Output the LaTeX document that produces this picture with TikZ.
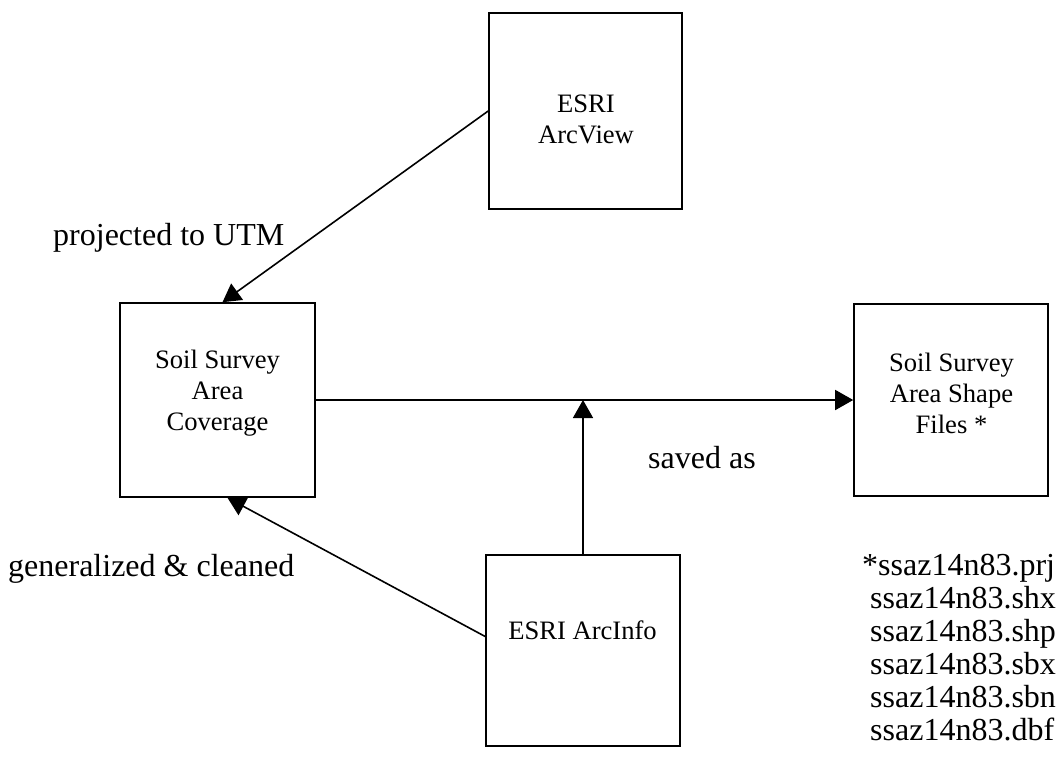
\documentclass[tikz,border=0pt]{standalone}
\usepackage{fontspec}
\setmainfont{Liberation Serif}
\usetikzlibrary{arrows.meta}
\begin{document}
\begin{tikzpicture}[x=1pt,y=-1pt,
  box/.style={draw, line width=1.6pt, minimum width=194pt, minimum height=194pt, inner sep=0pt},
  boxtext/.style={align=center, font=\fontsize{26.6}{31}\selectfont, inner sep=0pt},
  lbl/.style={font=\fontsize{32}{33}\selectfont, inner sep=0pt},
  conn/.style={line width=1.6pt, -{Triangle[length=18pt,width=20pt]}}]
\useasboundingbox (0,0) rectangle (1060,763);
% boxes
\node[box, minimum width=193pt, minimum height=196pt] (arcview) at (585.5,111) {};
\node[box, minimum width=195pt] (coverage) at (217.5,400) {};
\node[box, minimum height=192pt] (shape) at (951,400) {};
\node[box, minimum height=191pt] (arcinfo) at (583,650.5) {};
% box texts
\node[boxtext] (arcviewtxt) at (586,119) {ESRI\\ArcView};
\node[boxtext] (coveragetxt) at (217.5,393) {Soil Survey\\Area\\Coverage};
\node[boxtext] (shapetxt) at (951.5,393) {Soil Survey\\Area Shape\\Files *};
\node[boxtext] (arcinfotxt) at (582.5,630) {ESRI ArcInfo};
% connectors
\draw[conn] (arcview.west) -- ([xshift=5pt]coverage.north);
\draw[conn] ([yshift=14pt]arcinfo.west) -- ([xshift=10pt]coverage.south);
\draw[conn] (coverage.east) -- (shape.west);
\coordinate (join) at (arcinfo.north |- coverage.east);
\draw[conn] (arcinfo.north) -- (join);
% labels
\node[lbl, anchor=base west] (proj) at (53,245) {projected to UTM};
\node[lbl, anchor=base west] (gen) at (8,576) {generalized \& cleaned};
\node[lbl, anchor=base west] (saved) at (648,468) {saved as};
% file list
\node[lbl, anchor=base west] (f1) at (862,575) {*ssaz14n83.prj};
\node[lbl, anchor=base west] (f2) at (870,608) {ssaz14n83.shx};
\node[lbl, anchor=base west] (f3) at (870,641) {ssaz14n83.shp};
\node[lbl, anchor=base west] (f4) at (870,674) {ssaz14n83.sbx};
\node[lbl, anchor=base west] (f5) at (870,707) {ssaz14n83.sbn};
\node[lbl, anchor=base west] (f6) at (870,740) {ssaz14n83.dbf};
\end{tikzpicture}
\end{document}
